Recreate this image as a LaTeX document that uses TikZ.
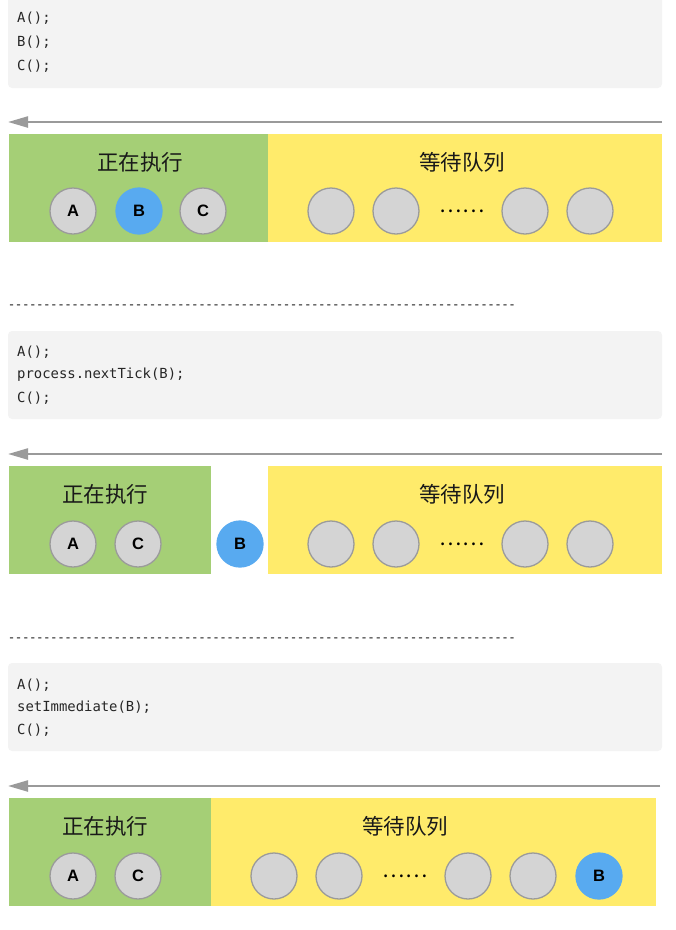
\documentclass[tikz,border=0pt]{standalone}
\usepackage{fontspec}
\setmainfont{Liberation Sans}
\setmonofont{DejaVu Sans Mono}
\newfontfamily\cjk{Noto Sans CJK SC}
\newfontfamily\rulefont{Liberation Mono}
\usetikzlibrary{arrows.meta}

\definecolor{codebg}{HTML}{F3F3F3}
\definecolor{runcol}{HTML}{A5CF76}
\definecolor{waitcol}{HTML}{FFEB6B}
\definecolor{ballgray}{HTML}{D4D4D4}
\definecolor{balledge}{HTML}{9B9B9B}
\definecolor{ballblue}{HTML}{58AAF0}
\definecolor{arrowgray}{HTML}{9A9A9A}

\begin{document}
\begin{tikzpicture}
  [x=1pt,y=-1pt,
   codebox/.style={fill=codebg, rounded corners=4pt},
   codeline/.style={anchor=west, inner sep=0pt, font=\ttfamily\fontsize{13.9}{13.9}\selectfont, text=black!85},
   ball/.style={circle, minimum size=46pt, inner sep=0pt, fill=ballgray, draw=balledge, line width=1.3pt, font=\bfseries\fontsize{16.5}{16.5}\selectfont},
   hot/.style={ball, fill=ballblue, draw=ballblue},
   title/.style={inner sep=0pt, font=\cjk\fontsize{21.5}{21.5}\selectfont, text=black!90},
   dots/.style={inner sep=0pt, font=\cjk\fontsize{21}{21}\selectfont},
   flow/.style={draw=arrowgray, line width=2.2pt, -{Triangle[length=20pt,width=11pt]}},
   sep/.style={inner sep=0pt, anchor=west, font=\rulefont\fontsize{11.75}{11.75}\selectfont}]
  \useasboundingbox (0,0) rectangle (676,930);

  % first case
  \fill[codebox] (8,-6) rectangle (662,88);
  \node[codeline] (c11) at (17,18) {A();};
  \node[codeline] (c12) at (17,42) {B();};
  \node[codeline] (c13) at (17,66) {C();};
  \coordinate (s1) at (662,122);
  \coordinate (e1) at (8,122);
  \draw[flow] (s1) -- (e1);
  \fill[runcol] (9,134) rectangle (268,242);
  \fill[waitcol] (268,134) rectangle (662,242);
  \node[title] (run1) at (140,162) {正在执行};
  \node[title] (wait1) at (462,162) {等待队列};
  \node[ball] (a1) at (73,211) {A};
  \node[hot] (b1) at (139,211) {B};
  \node[ball] (cc1) at (203,211) {C};
  \foreach \x/\n in {331/1,396/2,525/3,590/4}
    \node[ball] (q1\n) at (\x,211) {};
  \node[dots] (d1) at (462,211) {……};

  \node[sep] (r1) at (8,307) {------------------------------------------------------------------------};

  % process.nextTick
  \fill[codebox] (8,331) rectangle (662,419);
  \node[codeline] (c21) at (17,352) {A();};
  \node[codeline] (c22) at (17,375) {process.nextTick(B);};
  \node[codeline] (c23) at (17,398) {C();};
  \coordinate (s2) at (662,454);
  \coordinate (e2) at (8,454);
  \draw[flow] (s2) -- (e2);
  \fill[runcol] (9,466) rectangle (211,574);
  \fill[waitcol] (268,466) rectangle (662,574);
  \node[title] (run2) at (105,494) {正在执行};
  \node[title] (wait2) at (462,494) {等待队列};
  \node[ball] (a2) at (73,544) {A};
  \node[ball] (cc2) at (138,544) {C};
  \node[hot] (b2) at (240,544) {B};
  \foreach \x/\n in {331/1,396/2,525/3,590/4}
    \node[ball] (q2\n) at (\x,544) {};
  \node[dots] (d2) at (462,544) {……};

  \node[sep] (r2) at (8,640) {------------------------------------------------------------------------};

  % setImmediate
  \fill[codebox] (8,663) rectangle (662,751);
  \node[codeline] (c31) at (17,685) {A();};
  \node[codeline] (c32) at (17,707) {setImmediate(B);};
  \node[codeline] (c33) at (17,730) {C();};
  \coordinate (s3) at (660,786);
  \coordinate (e3) at (8,786);
  \draw[flow] (s3) -- (e3);
  \fill[runcol] (9,798) rectangle (211,906);
  \fill[waitcol] (211,798) rectangle (656,906);
  \node[title] (run3) at (105,826) {正在执行};
  \node[title] (wait3) at (405,826) {等待队列};
  \node[ball] (a3) at (73,876) {A};
  \node[ball] (cc3) at (138,876) {C};
  \foreach \x/\n in {274/1,339/2,468/3,533/4}
    \node[ball] (q3\n) at (\x,876) {};
  \node[dots] (d3) at (405,876) {……};
  \node[hot] (b3) at (599,876) {B};
\end{tikzpicture}
\end{document}
